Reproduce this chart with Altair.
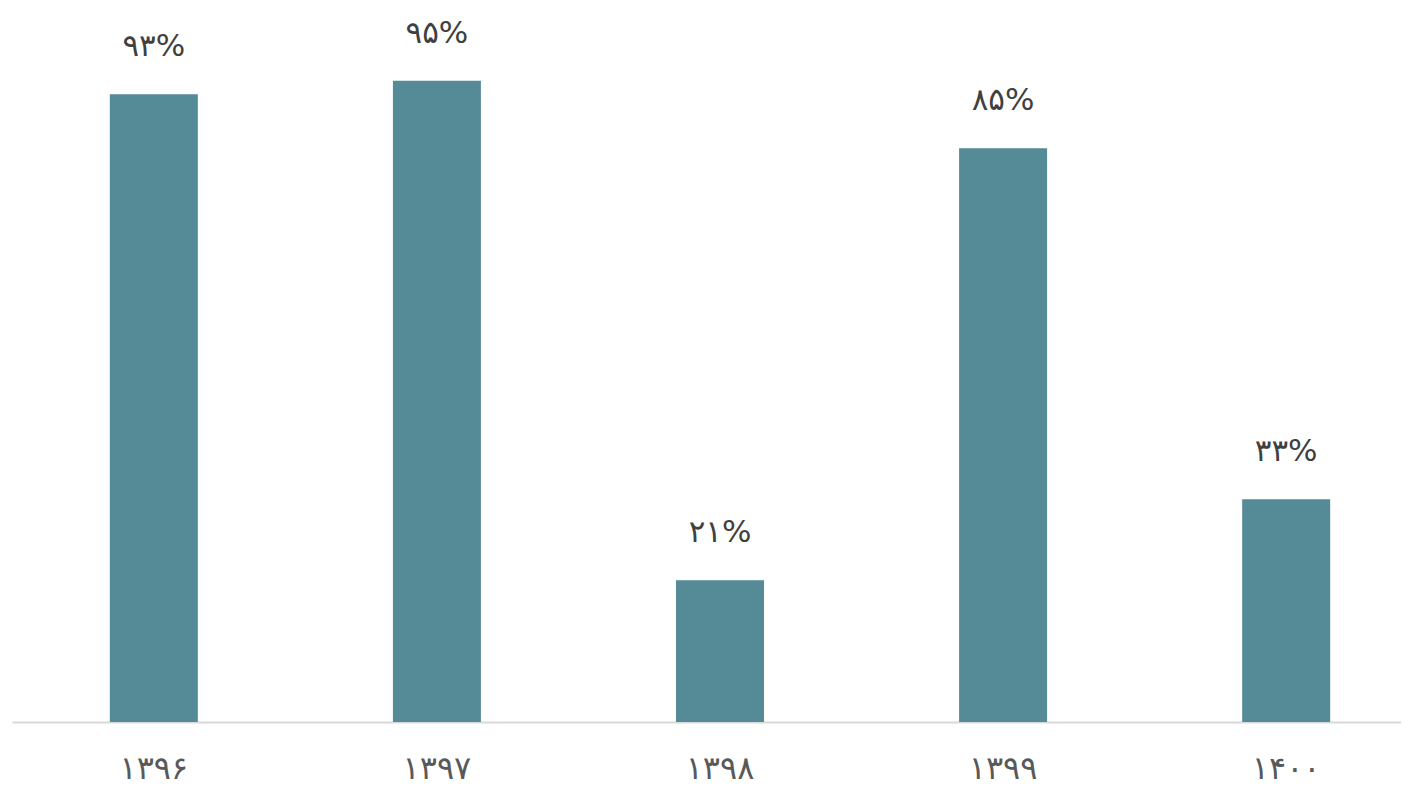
import altair as alt
import pandas as pd

years = ["۱۳۹۶", "۱۳۹۷", "۱۳۹۸", "۱۳۹۹", "۱۴۰۰"]
values = [0.93, 0.95, 0.21, 0.85, 0.33]
labels = ["۹۳%", "۹۵%", "۲۱%", "۸۵%", "۳۳%"]

df = pd.DataFrame({"year": years, "value": values, "label": labels})

FONT = "DejaVu Sans"

x = alt.X(
    "year:N",
    sort=years,
    scale=alt.Scale(range=[0, 1416], paddingInner=0.69, paddingOuter=0.346),
    axis=alt.Axis(
        title=None,
        labelAngle=0,
        ticks=False,
        domainColor="#d9d9d9",
        domainWidth=2,
        labelFont=FONT,
        labelFontSize=32,
        labelFontWeight="normal",
        labelColor="#595959",
        labelPadding=46,
        labelBaseline="middle",
    ),
)
y = alt.Y("value:Q", scale=alt.Scale(domain=[0, 1]), axis=None)

bars = alt.Chart(df).mark_bar(color="#558a97", size=88).encode(x=x, y=y)
text = alt.Chart(df).mark_text(
    font=FONT, fontSize=31, fontWeight="normal", color="#404040", dy=-47, baseline="middle"
).encode(x=x, y=y, text="label:N")

chart = (
    alt.layer(bars, text)
    .properties(
        width=1389,
        height=675,
        autosize=alt.AutoSizeParams(type="none"),
        padding={"left": 4, "top": 39, "right": 0, "bottom": 77},
    )
    .configure_view(stroke=None)
)

chart.save("out.html", embed_options={"renderer": "svg", "actions": False})
